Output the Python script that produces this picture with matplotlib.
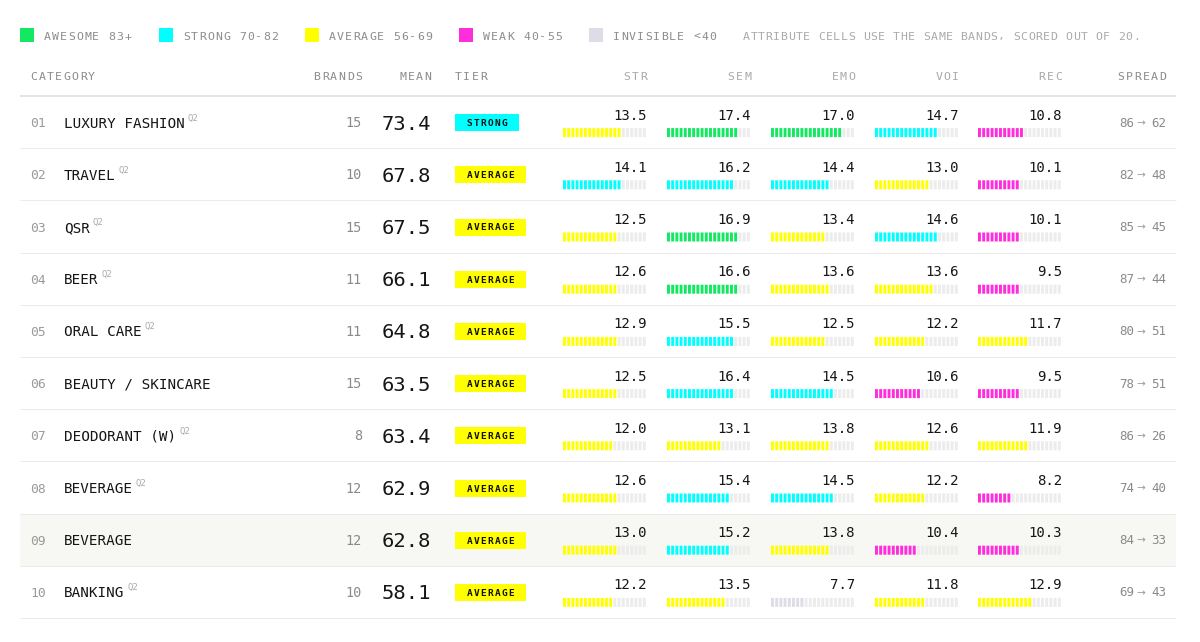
import math
import matplotlib
matplotlib.use('Agg')
import matplotlib.pyplot as plt
from matplotlib.patches import Rectangle

MONO = 'DejaVu Sans Mono'

# ---- data ----
categories = ["LUXURY FASHION", "TRAVEL", "QSR", "BEER", "ORAL CARE",
              "BEAUTY / SKINCARE", "DEODORANT (W)", "BEVERAGE", "BEVERAGE", "BANKING"]
has_q2 = [True, True, True, True, True, False, True, True, False, True]
brands = [15, 10, 15, 11, 11, 15, 8, 12, 12, 10]
means = [73.4, 67.8, 67.5, 66.1, 64.8, 63.5, 63.4, 62.9, 62.8, 58.1]
tiers = ["STRONG", "AVERAGE", "AVERAGE", "AVERAGE", "AVERAGE",
         "AVERAGE", "AVERAGE", "AVERAGE", "AVERAGE", "AVERAGE"]
attr_names = ["STR", "SEM", "EMO", "VOI", "REC"]
str_vals = [13.5, 14.1, 12.5, 12.6, 12.9, 12.5, 12.0, 12.6, 13.0, 12.2]
sem_vals = [17.4, 16.2, 16.9, 16.6, 15.5, 16.4, 13.1, 15.4, 15.2, 13.5]
emo_vals = [17.0, 14.4, 13.4, 13.6, 12.5, 14.5, 13.8, 14.5, 13.8, 7.7]
voi_vals = [14.7, 13.0, 14.6, 13.6, 12.2, 10.6, 12.6, 12.2, 10.4, 11.8]
rec_vals = [10.8, 10.1, 10.1, 9.5, 11.7, 9.5, 11.9, 8.2, 10.3, 12.9]
spread_hi = [86, 82, 85, 87, 80, 78, 86, 74, 84, 69]
spread_lo = [62, 48, 45, 44, 51, 51, 26, 40, 33, 43]
highlight_row = 8

band_labels = ["AWESOME 83+", "STRONG 70-82", "AVERAGE 56-69", "WEAK 40-55", "INVISIBLE <40"]
band_colors = ["#14E862", "#00FFFF", "#FFFF00", "#FF2EDC", "#DDDDE8"]
note = "ATTRIBUTE CELLS USE THE SAME BANDS, SCORED OUT OF 20."

attrs = [str_vals, sem_vals, emo_vals, voi_vals, rec_vals]


def band_color(score100):
    if score100 >= 83:
        return band_colors[0]
    if score100 >= 70:
        return band_colors[1]
    if score100 >= 56:
        return band_colors[2]
    if score100 >= 40:
        return band_colors[3]
    return band_colors[4]


fig = plt.figure(figsize=(12, 6.42), dpi=100)
ax = fig.add_axes([0, 0, 1, 1])
ax.set_xlim(0, 1200)
ax.set_ylim(642, 0)
ax.axis('off')

PT = 0.72  # px -> pt at 100 dpi


def tracked(x, y, s, size_px, adv, ha='left', **kw):
    # monospace text with letter spacing, one glyph per cell
    n = len(s)
    if ha == 'right':
        x0 = x - n * adv + (adv - 0.6 * size_px) / 2
    elif ha == 'center':
        x0 = x - n * adv / 2
    else:
        x0 = x - (adv - 0.6 * size_px) / 2
    for i, ch in enumerate(s):
        ax.text(x0 + (i + 0.5) * adv, y, ch, ha='center', va='baseline',
                fontsize=size_px * PT, family=MONO, **kw)


# ---- legend ----
leg_x = [20, 159, 305, 459, 589]
for lx, lab, col in zip(leg_x, band_labels, band_colors):
    ax.add_patch(Rectangle((lx, 28), 14, 14, color=col, lw=0))
    tracked(lx + 24, 39.5, lab, 11.5, 8.0, color='#8c8c8c')
tracked(743, 39.5, note, 11.5, 7.5, color='#aaaaaa')

# ---- header ----
hy = 80.5
hcol = '#8c8c8c'
tracked(30, hy, "CATEGORY", 11.5, 8.3, color=hcol)
tracked(362, hy, "BRANDS", 11.5, 8.3, ha='right', color=hcol)
tracked(431, hy, "MEAN", 11.5, 8.3, ha='right', color=hcol)
tracked(455, hy, "TIER", 11.5, 8.3, color=hcol)
col_x = [563, 667, 771, 875, 978]
bar_w = 84
for cx, name in zip(col_x, attr_names):
    tracked(cx + bar_w, hy, name, 11.5, 8.3, ha='right', color='#a8a8a8')
tracked(1166, hy, "SPREAD", 11.5, 8.3, ha='right', color=hcol)

# ---- rows ----
top = 96
pitch = 52.2
ax.hlines(top, 20, 1176, color='#e4e4e4', lw=2 * PT)
ax.add_patch(Rectangle((20, top + pitch * highlight_row), 1156, pitch,
                       color='#f7f7f3', lw=0, zorder=0))

renderer = fig.canvas.get_renderer()
inv = ax.transData.inverted()

for i in range(len(categories)):
    c = top + pitch * i + pitch / 2
    ax.hlines(top + pitch * (i + 1), 20, 1176, color='#ebebeb', lw=1 * PT)

    ax.text(30, c + 5, f"{i + 1:02d}", ha='left', va='baseline',
            fontsize=13 * PT, family=MONO, color='#9a9a9a')
    t = ax.text(64, c + 5.5, categories[i], ha='left', va='baseline',
                fontsize=14.2 * PT, family=MONO, color='#151515')
    if has_q2[i]:
        bb = t.get_window_extent(renderer)
        x_end = inv.transform((bb.x1, bb.y0))[0]
        ax.text(x_end + 3, c - 1.5, "Q2", ha='left', va='baseline',
                fontsize=9 * PT, family=MONO, color='#aaaaaa')

    ax.text(362, c + 5, str(brands[i]), ha='right', va='baseline',
            fontsize=13.5 * PT, family=MONO, color='#8a8a8a')
    ax.text(431, c + 7.5, f"{means[i]:.1f}", ha='right', va='baseline',
            fontsize=20.5 * PT, family=MONO, color='#151515')

    # tier badge
    tier = tiers[i]
    bw = 64 if tier == "STRONG" else 71
    tcol = band_color(means[i])
    ax.add_patch(Rectangle((455, c - 8), bw, 17, color=tcol, lw=0))
    tracked(455 + bw / 2, c + 4, tier, 9.5, 7.0, ha='center',
            color='#111111', fontweight='bold')

    # attribute cells
    for cx, vals in zip(col_x, attrs):
        v = vals[i]
        ax.text(cx + bar_w, c - 2.5, f"{v:.1f}", ha='right', va='baseline',
                fontsize=14 * PT, family=MONO, color='#151515')
        nfill = int(math.floor(v + 0.5))
        seg_pitch = bar_w / 20
        seg_x = [cx + k * seg_pitch for k in range(20)]
        fill = band_color(v * 5)
        seg_c = [fill if k < nfill else '#ececec' for k in range(20)]
        ax.bar(seg_x, 9, width=seg_pitch * 0.7, bottom=c + 6, color=seg_c,
               align='edge', lw=0, snap=False)

    # spread: hi -> lo with a small arrow
    ax.text(1166, c + 4.5, str(spread_lo[i]), ha='right', va='baseline',
            fontsize=12.5 * PT, family=MONO, color='#8a8a8a')
    ax.text(1141, c + 4, "→", ha='center', va='baseline',
            fontsize=10.5 * PT, family='DejaVu Sans', color='#9a9a9a')
    ax.text(1134, c + 4.5, str(spread_hi[i]), ha='right', va='baseline',
            fontsize=12.5 * PT, family=MONO, color='#8a8a8a')

fig.savefig('out.png', dpi=100)
